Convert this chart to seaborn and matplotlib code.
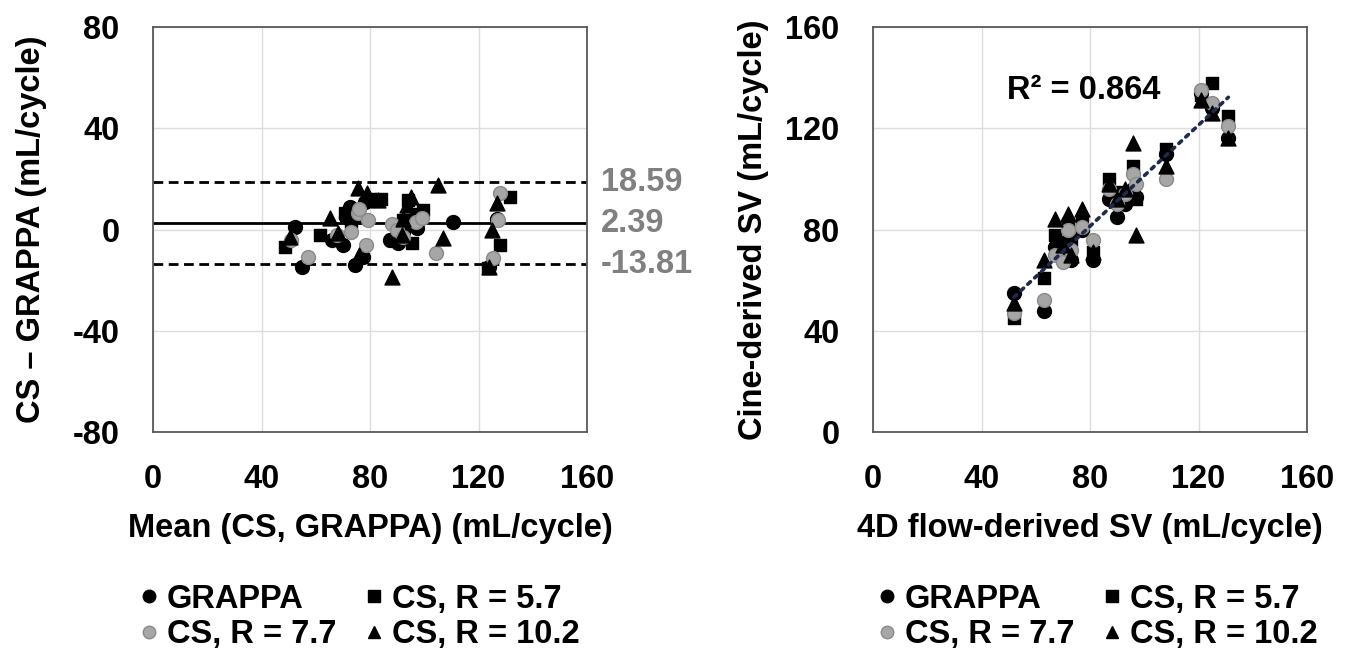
import numpy as np
import pandas as pd
import matplotlib
matplotlib.use("Agg")
import matplotlib.pyplot as plt
from matplotlib.lines import Line2D
import seaborn as sns

# ---------------- data ----------------
series_names = ["GRAPPA", "CS, R = 5.7", "CS, R = 7.7", "CS, R = 10.2"]

# Bland-Altman (left): mean and difference per series
ba_grappa_mean = [52.3, 54.8, 66, 70.2, 71, 72.6, 74.5, 77.5, 78, 87.4, 90.4, 92, 95.5, 97.2, 110.7, 124, 127]
ba_grappa_diff = [1.1, -14.7, -4, -6.1, 5, 9.0, -14.0, -10.7, 11, -4.1, -5.5, -1, 2, 0.5, 3.1, -15, 4]
ba_cs57_mean = [48.7, 61.6, 70.8, 73, 76, 80, 84, 88, 90, 92.3, 94.1, 95.4, 97, 99.7, 123.6, 127.9, 131.6]
ba_cs57_diff = [-6.8, -2.2, 6.4, 3, 5, 12, 12, -4, -2, 3.8, 11.7, -5.5, 6, 7.7, -15.3, -6.1, 13.0]
ba_cs77_mean = [51, 57.3, 68, 73, 75.7, 76, 78.5, 79.4, 88, 89.8, 92, 97, 99.1, 104.3, 125.5, 127.3, 127.9]
ba_cs77_diff = [-4, -10.7, -2, -1, 6.4, 8, -6.1, 3.8, 2, -0.2, -3, 3, 4.4, -9.2, -11.4, 3.8, 14.3]
ba_cs102_mean = [50.5, 65.3, 68.3, 75.7, 76, 78.8, 83.1, 88.0, 91.7, 92, 93.5, 95, 105.2, 107.0, 124, 124.9, 126.7]
ba_cs102_diff = [-2.8, 4.4, -1.5, 16.3, -10, 14.3, 11.7, -18.6, -2.2, 4, 9.7, 13, 17.6, -3.5, -15, -0.2, 10.4]

loa_values = [18.59, 2.39, -13.81]
loa_labels = ["18.59", "2.39", "-13.81"]

# Correlation (right): 4D flow SV vs cine SV per series
flow_sv = [52, 63, 67, 70, 72, 73, 77, 81, 87, 90, 93, 96, 97, 108, 121, 125, 131]
cine_grappa = [55, 48, 73, 68, 76, 68, 80, 68, 92, 85, 90, 96, 93, 110, 134, 128, 116]
cine_cs57 = [45, 61, 78, 72, 82, 76, 83, 71, 100, 95, 92, 105, 92, 112, 133, 138, 125]
cine_cs77 = [47, 52, 70, 67, 80, 72, 81, 76, 96, 90, 94, 102, 98, 100, 135, 130, 121]
cine_cs102 = [51, 68, 84, 74, 86, 70, 88, 71, 98, 92, 96, 114, 78, 105, 131, 126, 116]
r2_text = "R\u00b2 = 0.864"

x_ticks = [0, 40, 80, 120, 160]
ba_y_ticks = [-80, -40, 0, 40, 80]
corr_y_ticks = [0, 40, 80, 120, 160]

# ---------------- style ----------------
sns.set_theme(style="white")
plt.rcParams["font.family"] = ["Liberation Sans", "DejaVu Sans"]
plt.rcParams["font.weight"] = "bold"
plt.rcParams["axes.unicode_minus"] = False
plt.rcParams["text.color"] = "black"
FS = 23.5

colors = {"GRAPPA": "black", "CS, R = 5.7": "black", "CS, R = 7.7": "#a6a6a6", "CS, R = 10.2": "black"}
edges = {"GRAPPA": "black", "CS, R = 5.7": "black", "CS, R = 7.7": "#8a8a8a", "CS, R = 10.2": "black"}
markers = {"GRAPPA": "o", "CS, R = 5.7": "s", "CS, R = 7.7": "o", "CS, R = 10.2": "^"}
sizes = {"GRAPPA": 100, "CS, R = 5.7": 75, "CS, R = 7.7": 100, "CS, R = 10.2": 115}

ba_df = pd.concat([
    pd.DataFrame({"mean": ba_grappa_mean, "diff": ba_grappa_diff, "series": series_names[0]}),
    pd.DataFrame({"mean": ba_cs57_mean, "diff": ba_cs57_diff, "series": series_names[1]}),
    pd.DataFrame({"mean": ba_cs77_mean, "diff": ba_cs77_diff, "series": series_names[2]}),
    pd.DataFrame({"mean": ba_cs102_mean, "diff": ba_cs102_diff, "series": series_names[3]}),
], ignore_index=True)

corr_df = pd.concat([
    pd.DataFrame({"flow": flow_sv, "cine": cine_grappa, "series": series_names[0]}),
    pd.DataFrame({"flow": flow_sv, "cine": cine_cs57, "series": series_names[1]}),
    pd.DataFrame({"flow": flow_sv, "cine": cine_cs77, "series": series_names[2]}),
    pd.DataFrame({"flow": flow_sv, "cine": cine_cs102, "series": series_names[3]}),
], ignore_index=True)

W, H = 1363, 658
fig = plt.figure(figsize=(W / 100, H / 100), dpi=100)
fig.patch.set_facecolor("white")

def px_axes(x0, y0, x1, y1):
    return fig.add_axes([x0 / W, 1 - y1 / H, (x1 - x0) / W, (y1 - y0) / H])

ax1 = px_axes(153, 27, 587, 432)
ax2 = px_axes(873, 27, 1307, 432)

def style_axes(ax, yticks):
    ax.set_xlim(0, 160)
    ax.set_ylim(yticks[0], yticks[-1])
    ax.set_xticks(x_ticks)
    ax.set_yticks(yticks)
    ax.grid(True, color="#dcdcdc", linewidth=1.0)
    ax.set_axisbelow(True)
    for sp in ax.spines.values():
        sp.set_visible(True)
        sp.set_color("#595959")
        sp.set_linewidth(1.3)
    ax.tick_params(axis="both", length=0, labelsize=FS, colors="black")
    ax.tick_params(axis="y", pad=24)
    ax.tick_params(axis="x", pad=23)
    for lab in ax.get_xticklabels() + ax.get_yticklabels():
        lab.set_fontweight("bold")

# ---- left: Bland-Altman ----
style_axes(ax1, ba_y_ticks)
for name in series_names:
    sub = ba_df[ba_df["series"] == name]
    sns.scatterplot(data=sub, x="mean", y="diff", ax=ax1, marker=markers[name],
                    s=sizes[name], color=colors[name], edgecolor=edges[name],
                    linewidth=1.0, legend=False, zorder=3)
for v, lab in zip(loa_values, loa_labels):
    ls = "-" if lab == "2.39" else (0, (3.5, 2))
    ax1.axhline(v, color="black", linewidth=2.0, linestyle=ls, zorder=2)
    ax1.annotate(lab, xy=(1.0, v), xycoords=("axes fraction", "data"),
                 xytext=(10, 0), textcoords="offset points", ha="left", va="center",
                 fontsize=FS, fontweight="bold", color="#808080", annotation_clip=False)
ax1.set_xlabel("Mean (CS, GRAPPA) (mL/cycle)", fontsize=FS, fontweight="bold", color="black")
ax1.set_ylabel("CS \u2013 GRAPPA (mL/cycle)", fontsize=FS, fontweight="bold", color="black")
ax1.xaxis.set_label_coords(0.5, -0.2)
ax1.yaxis.set_label_coords(-0.245, 0.5)

# ---- right: correlation ----
style_axes(ax2, corr_y_ticks)
for name in series_names:
    sub = corr_df[corr_df["series"] == name]
    sns.scatterplot(data=sub, x="flow", y="cine", ax=ax2, marker=markers[name],
                    s=sizes[name], color=colors[name], edgecolor=edges[name],
                    linewidth=1.0, legend=False, zorder=3)
sns.regplot(data=corr_df, x="flow", y="cine", ax=ax2, scatter=False, ci=None,
            truncate=True, line_kws=dict(color="#1f2a4d", linestyle=(0, (1, 1.6)),
                                         linewidth=2.6, dash_capstyle="round", zorder=4))
ax2.text(49.5, 135, r2_text, fontsize=FS, fontweight="bold", color="black",
         ha="left", va="center", zorder=5)
ax2.set_xlabel("4D flow-derived SV (mL/cycle)", fontsize=FS, fontweight="bold", color="black")
ax2.set_ylabel("Cine-derived SV (mL/cycle)", fontsize=FS, fontweight="bold", color="black")
ax2.xaxis.set_label_coords(0.5, -0.2)
ax2.yaxis.set_label_coords(-0.24, 0.5)

# ---- legends ----
def handles():
    hs = []
    for name in series_names:
        hs.append(Line2D([], [], linestyle="none", marker=markers[name],
                         markersize=9 if markers[name] != "s" else 8,
                         markerfacecolor=colors[name], markeredgecolor=edges[name],
                         label=name))
    return hs

hs = handles()
order = [0, 2, 1, 3]
for xl in (139, 877):
    leg = fig.legend([hs[i] for i in order], [series_names[i] for i in order],
                     ncol=2, loc="center left", bbox_to_anchor=(xl / W, 1 - 617 / H),
                     frameon=False, fontsize=FS, handlelength=0.6, handletextpad=0.25,
                     columnspacing=0.85, labelspacing=0.15, borderpad=0, borderaxespad=0)
    for t in leg.get_texts():
        t.set_fontweight("bold")
        t.set_color("black")

fig.savefig("out.png", dpi=100, facecolor="white")
